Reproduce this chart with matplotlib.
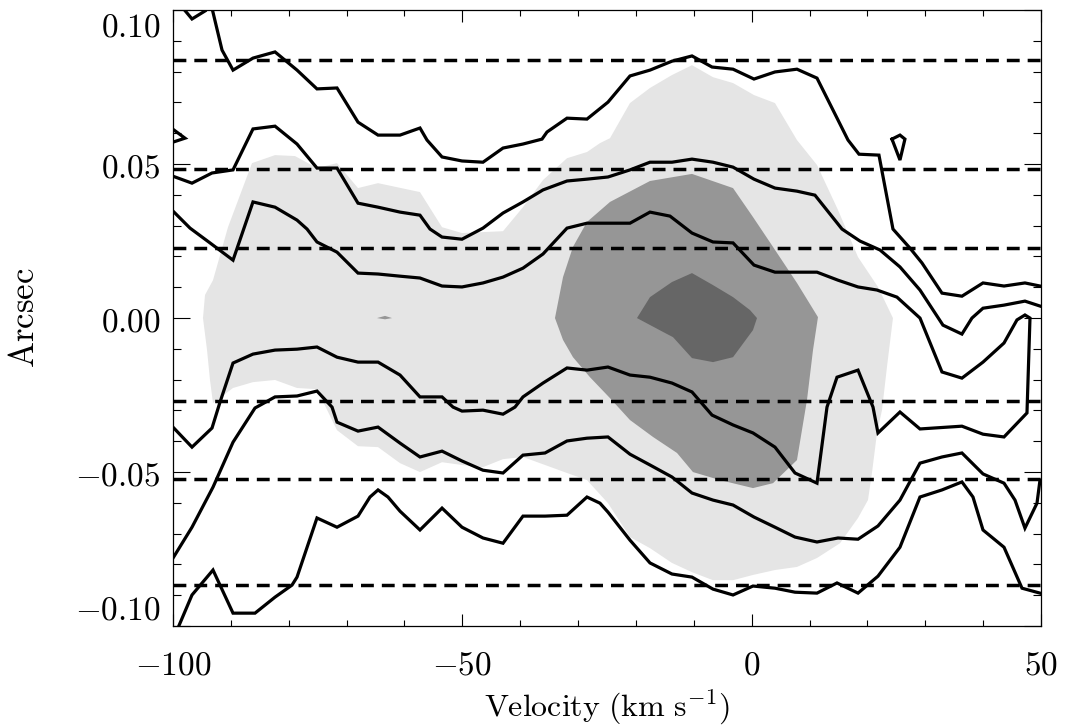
import numpy as np
import matplotlib
matplotlib.use("Agg")
import matplotlib.pyplot as plt
from matplotlib.ticker import MultipleLocator

# velocity (km/s) and offset (arcsec)

# filled levels (light, medium, dark)
light_vel = [-94.82, -94.47, -93.09, -90.50, -86.35, -82.37, -78.92, -75.12, -71.66, -68.03,
             -64.57, -57.32, -53.51, -50.06, -42.97, -39.52, -36.06, -31.91, -28.46, -26.21,
             -24.48, -21.03, -17.57, -13.77, -10.31, -6.68, -3.22, 0.40, 4.03, 7.83,
             11.29, 14.92, 18.38, 21.83, 24.42, 23.38, 22.52, 21.66, 20.79, 20.10,
             18.38, 15.27, 11.29, 7.83, 4.03, 0.23, -3.22, -6.68, -10.31, -13.77,
             -17.57, -21.03, -24.83, -28.46, -31.91, -35.71, -39.52, -42.97, -46.43, -50.06,
             -53.51, -57.32, -60.77, -64.57, -68.03, -71.66, -75.12, -78.57, -82.37, -86.18,
             -89.63, -93.09, -93.61, -94.12]
light_arc = [0.0, 0.0075, 0.0123, 0.0295, 0.0503, 0.0529, 0.0526, 0.0487, 0.0503, 0.0422,
             0.0438, 0.0409, 0.0295, 0.0276, 0.0282, 0.0360, 0.0448, 0.0519, 0.0539, 0.0568,
             0.0584, 0.0698, 0.0747, 0.0789, 0.0821, 0.0782, 0.0763, 0.0724, 0.0698, 0.0578,
             0.0497, 0.0351, 0.0198, 0.0101, 0.0, -0.0159, -0.0299, -0.0373, -0.0503, -0.0591,
             -0.0649, -0.0731, -0.0779, -0.0808, -0.0818, -0.0834, -0.0851, -0.0851, -0.0825, -0.0795,
             -0.0747, -0.0711, -0.0601, -0.0526, -0.0503, -0.0477, -0.0451, -0.0458, -0.0484, -0.0477,
             -0.0468, -0.0500, -0.0471, -0.0419, -0.0416, -0.0364, -0.0231, -0.0227, -0.0201, -0.0208,
             -0.0227, -0.0276, -0.0201, -0.0104]

mid_vel = [-33.99, -32.60, -30.88, -28.46, -24.48, -17.57, -10.31, -3.22, 0.23, 3.69,
           7.83, 11.46, 10.60, 9.56, 7.83, 3.69, 0.23, -5.47, -10.14, -12.90,
           -17.05, -21.03, -24.48, -27.94, -30.88, -32.60]
mid_arc = [0.0, 0.0133, 0.0231, 0.0312, 0.0377, 0.0445, 0.0468, 0.0422, 0.0328, 0.0231,
           0.0114, 0.0003, -0.0104, -0.0266, -0.0461, -0.0536, -0.0552, -0.0526, -0.0500, -0.0438,
           -0.0386, -0.0331, -0.0260, -0.0192, -0.0127, -0.0071]

dark_vel = [-19.82, -17.57, -13.77, -10.31, -6.68, -3.22, -0.29, 0.92, 0.23, -3.22,
            -6.68, -10.31, -13.59, -15.32]
dark_arc = [0.0, 0.0068, 0.0117, 0.0146, 0.0107, 0.0068, 0.0026, 0.0, -0.0039, -0.0127,
            -0.0143, -0.0130, -0.0062, -0.0045]

speck_vel = [-64.75, -63.36, -62.15, -63.36]
speck_arc = [0.0, 0.0007, 0.0, -0.0004]

# contour lines
c1_vel = [-93.26, -91.53, -89.63, -86.18, -82.37, -78.57, -75.12, -71.66, -68.03, -64.57,
          -60.77, -57.32, -56.11, -53.51, -50.06, -46.43, -42.97, -39.52, -36.23, -35.37,
          -31.91, -28.46, -24.83, -21.03, -17.57, -13.77, -10.31, -6.85, -3.22, 0.40,
          4.03, 7.83, 11.29, 14.92, 16.65, 18.55, 22.00, 24.42, 27.36, 29.43,
          32.89, 36.34, 39.98, 43.61, 47.23, 49.83]
c1_arc = [0.1006, 0.0870, 0.0805, 0.0844, 0.0864, 0.0805, 0.0744, 0.0747, 0.0636, 0.0594,
          0.0594, 0.0617, 0.0578, 0.0523, 0.0510, 0.0506, 0.0552, 0.0565, 0.0581, 0.0604,
          0.0649, 0.0646, 0.0701, 0.0786, 0.0805, 0.0834, 0.0851, 0.0815, 0.0808, 0.0776,
          0.0799, 0.0808, 0.0779, 0.0643, 0.0578, 0.0532, 0.0529, 0.0289, 0.0227, 0.0179,
          0.0081, 0.0071, 0.0114, 0.0104, 0.0114, 0.0104]

c2_vel = [-100.52, -96.72, -93.26, -89.63, -86.18, -82.37, -78.57, -75.12, -71.66, -68.03,
          -64.57, -60.77, -57.32, -55.59, -53.51, -50.06, -46.43, -42.97, -39.52, -36.06,
          -31.91, -28.46, -24.83, -21.03, -17.57, -13.77, -10.31, -6.68, -3.22, 0.40,
          4.03, 7.83, 10.94, 15.61, 18.72, 22.18, 25.63, 29.09, 33.06, 36.34,
          38.07, 39.98, 43.61, 47.23, 49.83]
c2_arc = [0.0464, 0.0438, 0.0471, 0.0481, 0.0614, 0.0623, 0.0565, 0.0487, 0.0487, 0.0373,
          0.0360, 0.0344, 0.0334, 0.0289, 0.0263, 0.0256, 0.0292, 0.0341, 0.0377, 0.0416,
          0.0445, 0.0451, 0.0458, 0.0481, 0.0506, 0.0506, 0.0516, 0.0506, 0.0490, 0.0451,
          0.0422, 0.0412, 0.0399, 0.0289, 0.0250, 0.0221, 0.0166, 0.0091, -0.0023, -0.0052,
          0.0, 0.0032, 0.0042, 0.0055, 0.0039]

c3_vel = [-100.52, -97.06, -93.61, -89.63, -86.18, -82.37, -78.57, -76.84, -75.12, -71.66,
          -68.03, -64.57, -60.77, -57.32, -53.51, -50.06, -46.43, -42.97, -39.52, -36.06,
          -31.91, -28.46, -24.83, -21.03, -17.57, -14.11, -10.31, -6.68, -3.22, 0.40,
          4.03, 7.83, 11.29, 14.92, 18.38, 21.66, 25.11, 29.09, 32.89, 36.34,
          39.98, 43.61, 45.85, 47.23, 48.10, 47.58, 43.61, 39.98, 36.34, 29.09,
          25.63, 21.83, 20.97, 18.38, 14.75, 13.02, 11.29, 7.49, 4.03, 0.23,
          -3.22, -6.85, -10.31, -13.77, -17.57, -21.03, -24.83, -28.46, -31.91, -36.06,
          -39.52, -40.90, -42.97, -46.43, -50.06, -51.61, -53.51, -57.32, -60.77, -64.57,
          -68.03, -71.66, -75.12, -78.57, -82.37, -86.18, -89.63, -91.88, -93.26, -96.72,
          -100.52]
c3_arc = [0.0357, 0.0292, 0.0244, 0.0188, 0.0377, 0.0360, 0.0318, 0.0289, 0.0247, 0.0214,
          0.0146, 0.0143, 0.0136, 0.0130, 0.0104, 0.0101, 0.0114, 0.0133, 0.0162, 0.0208,
          0.0292, 0.0308, 0.0308, 0.0308, 0.0344, 0.0331, 0.0276, 0.0247, 0.0244, 0.0172,
          0.0149, 0.0149, 0.0149, 0.0123, 0.0101, 0.0091, 0.0068, 0.0, -0.0175, -0.0195,
          -0.0143, -0.0081, -0.0006, 0.0010, 0.0, -0.0308, -0.0386, -0.0377, -0.0351, -0.0360,
          -0.0305, -0.0373, -0.0289, -0.0169, -0.0192, -0.0289, -0.0536, -0.0503, -0.0419, -0.0373,
          -0.0347, -0.0315, -0.0240, -0.0211, -0.0192, -0.0185, -0.0159, -0.0169, -0.0162, -0.0211,
          -0.0256, -0.0289, -0.0312, -0.0299, -0.0302, -0.0289, -0.0256, -0.0256, -0.0185, -0.0143,
          -0.0143, -0.0127, -0.0094, -0.0101, -0.0104, -0.0117, -0.0146, -0.0273, -0.0357, -0.0419,
          -0.0344]

c4_vel = [-100.52, -96.72, -93.09, -89.63, -85.83, -82.37, -78.57, -75.12, -72.52, -71.66,
          -68.03, -64.57, -60.77, -57.32, -53.51, -50.06, -46.43, -42.97, -39.52, -35.71,
          -31.91, -28.46, -24.83, -21.03, -17.57, -13.77, -10.31, -6.68, -3.22, 0.40,
          4.03, 7.49, 11.29, 14.92, 18.38, 21.83, 25.63, 29.09, 32.89, 36.34,
          39.98, 43.61, 45.51, 47.23, 49.31, 49.83]
c4_arc = [-0.0795, -0.0679, -0.0549, -0.0403, -0.0292, -0.0256, -0.0253, -0.0237, -0.0289, -0.0338,
          -0.0367, -0.0354, -0.0406, -0.0451, -0.0432, -0.0464, -0.0494, -0.0503, -0.0445, -0.0438,
          -0.0399, -0.0390, -0.0386, -0.0442, -0.0477, -0.0516, -0.0568, -0.0591, -0.0607, -0.0646,
          -0.0679, -0.0711, -0.0727, -0.0714, -0.0718, -0.0675, -0.0591, -0.0471, -0.0451, -0.0438,
          -0.0506, -0.0536, -0.0591, -0.0682, -0.0601, -0.0526]

c5_vel = [-99.14, -96.72, -93.09, -89.63, -85.83, -82.37, -79.44, -78.57, -75.12, -71.66,
          -68.03, -65.96, -64.57, -62.85, -60.77, -57.32, -53.51, -50.06, -46.43, -42.97,
          -39.52, -35.71, -31.91, -28.46, -26.21, -24.83, -21.03, -17.57, -13.77, -10.31,
          -6.68, -3.22, 0.23, 4.03, 7.49, 11.29, 14.75, 18.38, 21.83, 25.63,
          29.09, 32.89, 36.34, 38.25, 39.98, 43.61, 46.72, 49.83]
c5_arc = [-0.1006, -0.0899, -0.0818, -0.0958, -0.0958, -0.0906, -0.0867, -0.0841, -0.0649, -0.0679,
          -0.0643, -0.0581, -0.0558, -0.0581, -0.0627, -0.0688, -0.0617, -0.0679, -0.0714, -0.0731,
          -0.0643, -0.0643, -0.0640, -0.0581, -0.0601, -0.0630, -0.0721, -0.0795, -0.0831, -0.0841,
          -0.0880, -0.0899, -0.0870, -0.0877, -0.0890, -0.0893, -0.0860, -0.0893, -0.0838, -0.0744,
          -0.0581, -0.0558, -0.0532, -0.0581, -0.0688, -0.0744, -0.0877, -0.0893]

# small pieces of contour
top_vel = [-98.27, -96.72, -94.47]
top_arc = [0.1006, 0.0971, 0.0997]
edge_vel = [-100.52, -97.93, -100.52]
edge_arc = [0.0620, 0.0584, 0.0568]
loop_vel = [24.25, 25.63, 26.49, 25.63, 24.25]
loop_arc = [0.0581, 0.0594, 0.0581, 0.0513, 0.0581]

# slit positions
slit_arc = [0.0838, 0.0484, 0.0228, -0.0269, -0.0523, -0.0867]

# axis ticks
xticks = [-100, -50, 0, 50]
xtick_labels = ['-100', '-50', '0', '50']
yticks = [-0.10, -0.05, 0.0, 0.05, 0.10]
ytick_labels = ['-0.10', '-0.05', '0.00', '0.05', '0.10']

plt.rcParams['mathtext.fontset'] = 'cm'


def cm(s):
    return r'$\mathrm{' + s + '}$'


fig = plt.figure(figsize=(10.68, 7.28), dpi=100)
ax = fig.add_axes([0.162, 0.140, 0.8127, 0.8462])

ax.fill(light_vel, light_arc, color='#e5e5e5', lw=0)
ax.fill(mid_vel, mid_arc, color='#969696', lw=0)
ax.fill(dark_vel, dark_arc, color='#666666', lw=0)
ax.fill(speck_vel, speck_arc, color='#969696', lw=0)

for a in slit_arc:
    ax.axhline(a, color='black', lw=2.5, linestyle=(0, (3.7, 2.3)))

lines = [(c1_vel, c1_arc), (c2_vel, c2_arc), (c3_vel, c3_arc), (c4_vel, c4_arc),
         (c5_vel, c5_arc), (top_vel, top_arc), (edge_vel, edge_arc), (loop_vel, loop_arc)]
for vel, arc in lines:
    ax.plot(vel, arc, color='black', lw=2.3, solid_joinstyle='miter')

ax.set_xlim(-100, 50)
ax.set_ylim(-0.1, 0.1)

ax.set_xticks(xticks)
ax.set_xticklabels([cm(s) for s in xtick_labels])
ax.set_yticks(yticks)
ax.set_yticklabels([cm(s) for s in ytick_labels])
ax.xaxis.set_minor_locator(MultipleLocator(10))
ax.yaxis.set_minor_locator(MultipleLocator(0.01))

ax.tick_params(which='both', direction='in', top=True, right=True, width=0.8, labelsize=24)
ax.tick_params(axis='x', which='major', length=8.6, pad=16)
ax.tick_params(axis='x', which='minor', length=4.3)
ax.tick_params(axis='y', which='major', length=12.2, pad=9)
ax.tick_params(axis='y', which='minor', length=6.1)
for sp in ax.spines.values():
    sp.set_linewidth(0.9)

# end labels sit inside the axis range, as in the original
yt = ax.yaxis.get_major_ticks()
yt[0].label1.set_va('bottom')
yt[-1].label1.set_va('top')

ax.set_xlabel(cm(r'Velocity\ (km\ s^{-1})'), fontsize=23)
ax.set_ylabel(cm('Arcsec'), fontsize=25)
ax.xaxis.set_label_coords(0.5, -0.1)
ax.yaxis.set_label_coords(-0.152, 0.5)

fig.savefig('out.png', dpi=100)
